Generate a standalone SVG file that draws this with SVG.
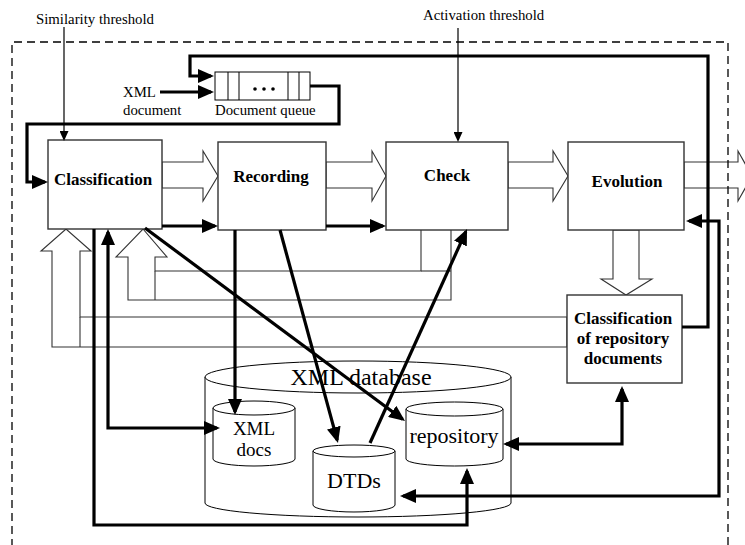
<svg xmlns="http://www.w3.org/2000/svg" width="745" height="545" viewBox="0 0 745 545">
<style>
.box{fill:#fff;stroke:#333;stroke-width:1.4}
.blk{fill:#fff;stroke:#333;stroke-width:1.1}
.ln{fill:none;stroke:#333;stroke-width:1.1}
.thk{fill:none;stroke:#000;stroke-width:3.2}
.thn{fill:none;stroke:#000;stroke-width:1.2}
.cyl{fill:#fff;stroke:#000;stroke-width:1}
.lbl{font-family:"Liberation Serif","Times New Roman",serif;font-weight:bold;font-size:17px;fill:#000;text-anchor:middle}
.sm{font-family:"Liberation Serif","Times New Roman",serif;font-size:14.8px;fill:#000}
.db{font-family:"Liberation Serif","Times New Roman",serif;font-size:22px;fill:#000;text-anchor:middle}
</style>
<defs>
<marker id="ah" markerUnits="userSpaceOnUse" viewBox="0 0 16 14" refX="13" refY="7" markerWidth="16" markerHeight="14" orient="auto-start-reverse">
<path d="M0,0 L16,7 L0,14 z" fill="#000"/>
</marker>
<marker id="sah" markerUnits="userSpaceOnUse" viewBox="0 0 10 9" refX="8" refY="4.5" markerWidth="10" markerHeight="9" orient="auto">
<path d="M0,0 L10,4.5 L0,9 z" fill="#000"/>
</marker>
</defs>
<rect width="745" height="545" fill="#fff"/>

<g id="block-arrows">
<polygon class="blk" points="162,162 203,162 203,151 218,176 203,201 203,188 162,188"/>
<polygon class="blk" points="326,162 372,162 372,151 386,176 372,201 372,188 326,188"/>
<polygon class="blk" points="508,162 553,162 553,151 568,176 553,201 553,188 508,188"/>
<polygon class="blk" style="fill:none" points="684,162 738,162 738,151 752,176 738,201 738,188 684,188"/>
<polygon class="blk" points="613,230 613,279 601,279 626,295 652,279 639,279 639,230"/>
<polygon class="blk" points="567,317 80,317 80,251 91,251 66,229 41,251 52,251 52,347 567,347"/>
<line class="ln" x1="80" y1="317" x2="80" y2="347"/>
<polygon class="blk" points="421,229 421,271 155,271 155,257 167,257 143,229 116,257 128,257 128,300 451,300 451,229"/>
<line class="ln" x1="155" y1="271" x2="155" y2="300"/>
<line class="ln" x1="421" y1="271" x2="451" y2="271"/>
</g>

<g id="classification">
<rect class="box" x="48" y="140" width="114" height="89"/>
<text class="lbl" x="103" y="185">Classification</text>
</g>
<g id="recording">
<rect class="box" x="218" y="142" width="108" height="88"/>
<text class="lbl" x="271" y="182">Recording</text>
</g>
<g id="check">
<rect class="box" x="386" y="142" width="122" height="88"/>
<text class="lbl" x="447" y="181">Check</text>
</g>
<g id="evolution">
<rect class="box" x="568" y="142" width="116" height="88"/>
<text class="lbl" x="627" y="187">Evolution</text>
</g>
<g id="classification-repository">
<rect class="box" x="567" y="295" width="115" height="88"/>
<text class="lbl" x="623" y="324">Classification</text>
<text class="lbl" x="623" y="344">of repository</text>
<text class="lbl" x="623" y="364">documents</text>
</g>

<g id="document-queue">
<rect x="215" y="72" width="95" height="28" fill="#fff" stroke="#000" stroke-width="1"/>
<line class="thn" style="stroke-width:1" x1="228" y1="72" x2="228" y2="100"/>
<line class="thn" style="stroke-width:1" x1="239" y1="72" x2="239" y2="100"/>
<line class="thn" style="stroke-width:1" x1="288" y1="72" x2="288" y2="100"/>
<line class="thn" style="stroke-width:1" x1="299" y1="72" x2="299" y2="100"/>
<circle cx="255" cy="89" r="1.8"/><circle cx="264" cy="89" r="1.8"/><circle cx="273" cy="89" r="1.8"/>
<text class="sm" x="215" y="115">Document queue</text>
</g>
<g id="xml-document">
<text class="sm" x="123" y="97">XML</text>
<text class="sm" x="123" y="115">document</text>
</g>
<g id="similarity-threshold">
<text class="sm" x="36" y="24">Similarity threshold</text>
</g>
<g id="activation-threshold">
<text class="sm" x="423" y="20">Activation threshold</text>
</g>

<g id="xml-database">
<path class="cyl" d="M205,377 V503 A153,14 0 0 0 511,503 V377"/>
<ellipse class="cyl" cx="358" cy="377" rx="153" ry="16"/>
<text class="db" x="361" y="385" style="font-size:24px">XML database</text>
</g>
<g id="xml-docs">
<path class="cyl" d="M213,408 V459 A41,7 0 0 0 295,459 V408"/>
<ellipse class="cyl" cx="254" cy="408" rx="41" ry="7"/>
<text class="db" x="254" y="435" style="font-size:19px">XML</text>
<text class="db" x="254" y="456" style="font-size:19px">docs</text>
</g>
<g id="dtds">
<path class="cyl" d="M313,451 V505 A41,7 0 0 0 395,505 V451"/>
<ellipse class="cyl" cx="354" cy="451" rx="41" ry="6"/>
<text class="db" x="354" y="488">DTDs</text>
</g>
<g id="repository">
<path class="cyl" d="M406,409 V459 A48.5,7 0 0 0 503,459 V409"/>
<ellipse class="cyl" cx="454.5" cy="409" rx="48.5" ry="7"/>
<text class="db" x="454" y="443">repository</text>
</g>

<g id="connectors">
<line class="thn" x1="64" y1="27" x2="64" y2="139" marker-end="url(#sah)"/>
<line class="thn" x1="458" y1="28" x2="458" y2="140" marker-end="url(#sah)"/>
<path class="thk" d="M682,327 H708 V56 H190 V76 H211" marker-end="url(#ah)"/>
<path class="thk" d="M160,92 H211" marker-end="url(#ah)"/>
<path class="thk" d="M310,86 H339 V124 H27 V182 H45" marker-end="url(#ah)"/>
<path class="thk" d="M162,226 H215" marker-end="url(#ah)"/>
<path class="thk" d="M326,226 H383" marker-end="url(#ah)"/>
<path class="thk" d="M403,496 H719 V221 H689" marker-start="url(#ah)" marker-end="url(#ah)"/>
<path class="thk" d="M506,444 H622 V389" marker-start="url(#ah)" marker-end="url(#ah)"/>
<path class="thk" d="M217,428 H108 V232" marker-start="url(#ah)" marker-end="url(#ah)"/>
<path class="thk" d="M94,229 V525 H467 V471" marker-end="url(#ah)"/>
<path class="thk" d="M235,230 V412" marker-end="url(#ah)"/>
<path class="thk" d="M280,230 L337.2,440.1" marker-end="url(#ah)"/>
<path class="thk" d="M145,228 L402.6,419.2" marker-end="url(#ah)"/>
<path class="thk" d="M370,443 L465.8,231.7" marker-end="url(#ah)"/>
</g>

<g id="frame">
<path d="M12,560 V42 H728 V560" fill="none" stroke="#000" stroke-width="1.3" stroke-dasharray="8,5"/>
</g>
</svg>
